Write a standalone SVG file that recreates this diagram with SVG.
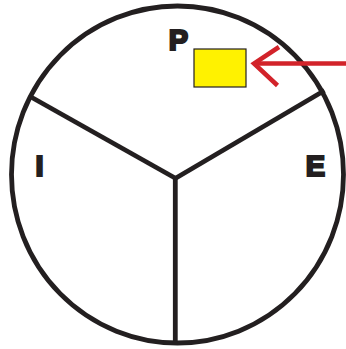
<svg xmlns="http://www.w3.org/2000/svg" width="346" height="349" viewBox="0 0 346 349">
<style>
.ln{stroke:#231f20;stroke-width:4.8;fill:none;stroke-linecap:butt}
.lbl{font-family:"Liberation Sans",Arial,sans-serif;font-weight:bold;font-size:29px;fill:#231f20;stroke:#231f20;stroke-width:2.2;stroke-linejoin:miter;text-anchor:middle}
.arr{stroke:#d2232a;stroke-width:4.5;fill:none}
</style>
<rect width="346" height="349" fill="#ffffff"/>
<g id="circle">
<ellipse class="ln" cx="177.5" cy="174.5" rx="166" ry="168.5"/>
</g>
<g id="connectors">
<line class="ln" x1="175.3" y1="177" x2="175.3" y2="343"/>
<line class="ln" x1="175" y1="178" x2="31" y2="97"/>
<line class="ln" x1="176" y1="178" x2="324.5" y2="90.5"/>
</g>
<g id="label-P"><text class="lbl" x="178.5" y="49.5">P</text></g>
<g id="label-I"><text class="lbl" x="39.5" y="175.5">I</text></g>
<g id="label-E"><text class="lbl" x="315.5" y="175.5">E</text></g>
<g id="box">
<rect x="194" y="49" width="52" height="38" fill="#fff200" stroke="#231f20" stroke-width="1.2"/>
</g>
<g id="arrow">
<line class="arr" x1="346" y1="63.5" x2="254" y2="63.5"/>
<polyline class="arr" points="279,47 254,63.5 277.5,85.5" stroke-linejoin="miter"/>
</g>
</svg>
